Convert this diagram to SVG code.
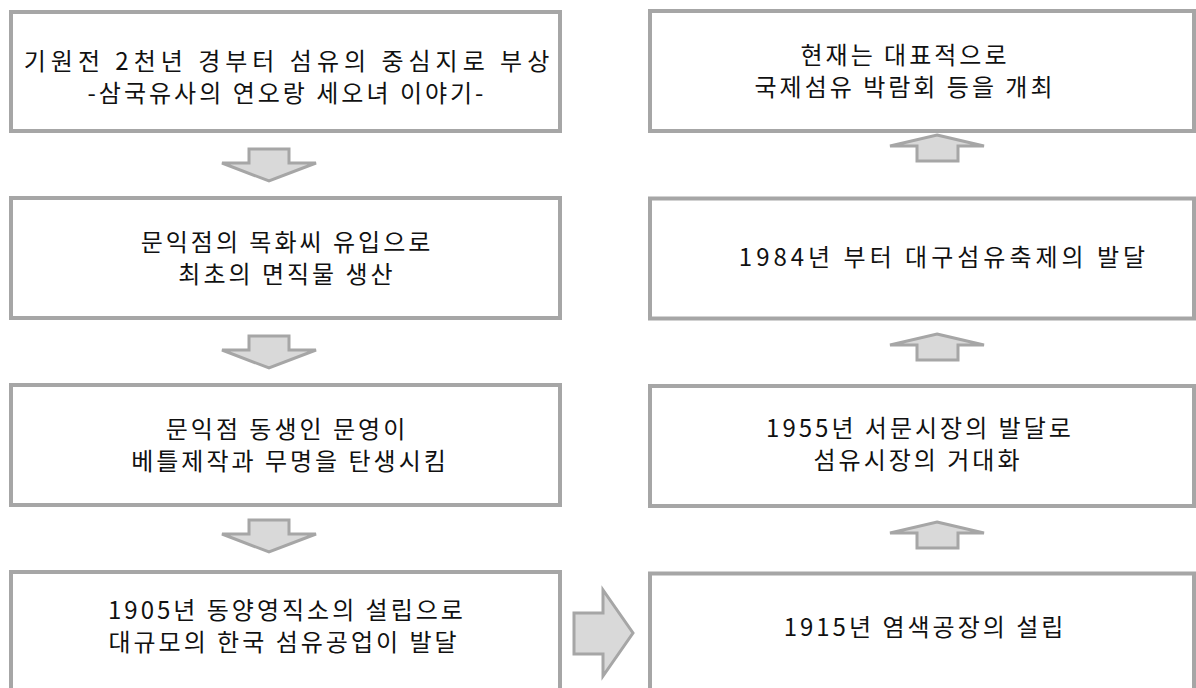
<svg xmlns="http://www.w3.org/2000/svg" width="1196" height="688" viewBox="0 0 1196 688">
<style>
.box{fill:#ffffff;stroke:#a6a6a6;stroke-width:4}
.arr{fill:#d9d9d9;stroke:#a6a6a6;stroke-width:3;stroke-linejoin:miter}
.t{font-family:"Noto Sans CJK KR","Noto Sans",sans-serif;font-size:24px;fill:#111111;text-anchor:middle;letter-spacing:3px}
</style>
<rect width="1196" height="688" fill="#ffffff"/>
<g id="connectors">
<polygon class="arr" points="249,149 289,149 289,163 316,163 269,181 222,163 249,163"/>
<polygon class="arr" points="249,336 289,336 289,350 316,350 269,368 222,350 249,350"/>
<polygon class="arr" points="249,520 289,520 289,534 316,534 269,552 222,534 249,534"/>
<polygon class="arr" points="574,613 603,613 603,590 633,633 603,676 603,654 574,654"/>
<polygon class="arr" points="937,135 984,146 958,146 958,161 917,161 917,146 890,146"/>
<polygon class="arr" points="937,334 984,345 958,345 958,360 917,360 917,345 890,345"/>
<polygon class="arr" points="937,522 984,533 958,533 958,548 917,548 917,533 890,533"/>
</g>
<g id="n1">
<rect class="box" x="11" y="12" width="549" height="119"/>
<text class="t" x="289" y="70" style="letter-spacing:5px">기원전 2천년 경부터 섬유의 중심지로 부상</text>
<text class="t" x="287" y="102">-삼국유사의 연오랑 세오녀 이야기-</text>
</g>
<g id="n2">
<rect class="box" x="11" y="198" width="549" height="120"/>
<text class="t" x="287" y="251">문익점의 목화씨 유입으로</text>
<text class="t" x="287" y="283">최초의 면직물 생산</text>
</g>
<g id="n3">
<rect class="box" x="11" y="385" width="549" height="120"/>
<text class="t" x="287" y="438">문익점 동생인 문영이</text>
<text class="t" x="290" y="470">베틀제작과 무명을 탄생시킴</text>
</g>
<g id="n4">
<rect class="box" x="11" y="572" width="549" height="130"/>
<text class="t" x="287" y="619">1905년 동양영직소의 설립으로</text>
<text class="t" x="284" y="651">대규모의 한국 섬유공업이 발달</text>
</g>
<g id="n5">
<rect class="box" x="650" y="11" width="544" height="120"/>
<text class="t" x="905" y="64">현재는 대표적으로</text>
<text class="t" x="905" y="96">국제섬유 박람회 등을 개최</text>
</g>
<g id="n6">
<rect class="box" x="650" y="198.5" width="544" height="120"/>
<text class="t" x="944" y="266" style="letter-spacing:4px">1984년 부터 대구섬유축제의 발달</text>
</g>
<g id="n7">
<rect class="box" x="650" y="386" width="544" height="120"/>
<text class="t" x="920" y="437">1955년 서문시장의 발달로</text>
<text class="t" x="918" y="469">섬유시장의 거대화</text>
</g>
<g id="n8">
<rect class="box" x="650" y="573.5" width="544" height="130"/>
<text class="t" x="925" y="636">1915년 염색공장의 설립</text>
</g>
</svg>
